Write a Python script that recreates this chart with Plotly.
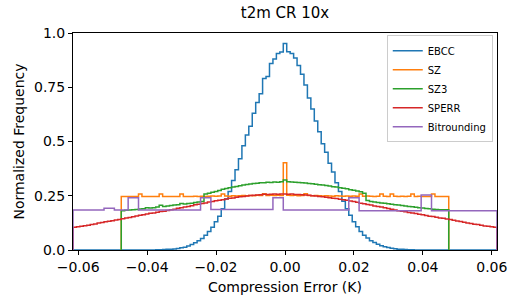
import numpy as np
import plotly.graph_objects as go

# ---------------- data ----------------
BIN_WIDTH = 0.001
GRID_START = -0.0615      # first bin edge of full-range histograms
SZ_START = -0.0475        # first bin edge of SZ / SZ3 histograms

series_names = ["EBCC", "SZ", "SZ3", "SPERR", "Bitrounding"]
series_colors = ["#1f77b4", "#ff7f0e", "#2ca02c", "#d62728", "#9467bd"]

ebcc = ([0.0] * 24 +
        [0.001, 0.001, 0.002, 0.003, 0.004, 0.005, 0.007, 0.010, 0.013, 0.018,
         0.025, 0.033, 0.043, 0.053, 0.068, 0.085, 0.105, 0.130, 0.155, 0.190,
         0.235, 0.270, 0.320, 0.370, 0.420, 0.480, 0.530, 0.570, 0.630, 0.680,
         0.720, 0.790, 0.800, 0.860, 0.880, 0.905, 0.912] +
        [0.952] +
        [0.914, 0.905, 0.885, 0.850, 0.810, 0.760, 0.700, 0.650, 0.595, 0.545,
         0.490, 0.450, 0.400, 0.360, 0.310, 0.270, 0.225, 0.190, 0.160, 0.130,
         0.107, 0.085, 0.068, 0.055, 0.043, 0.034, 0.027, 0.020, 0.015, 0.011,
         0.008, 0.006, 0.004, 0.003, 0.002, 0.001, 0.001] +
        [0.0] * 24)

sz = ([0.247, 0.246, 0.247, 0.246, 0.247, 0.258, 0.247, 0.246, 0.247, 0.246,
       0.247, 0.258, 0.247, 0.246, 0.247, 0.247, 0.246, 0.258, 0.247, 0.246,
       0.247, 0.248, 0.247, 0.248, 0.247, 0.248, 0.249, 0.248, 0.249, 0.258,
       0.249, 0.248, 0.250, 0.249, 0.250, 0.251, 0.250, 0.251, 0.250, 0.252,
       0.251, 0.259, 0.251, 0.252, 0.251, 0.252, 0.251] +
      [0.402] +
      [0.252, 0.251, 0.252, 0.250, 0.251, 0.259, 0.251, 0.250, 0.251, 0.250,
       0.249, 0.250, 0.249, 0.248, 0.250, 0.249, 0.248, 0.249, 0.248, 0.249,
       0.248, 0.258, 0.248, 0.249, 0.248, 0.247, 0.248, 0.258, 0.248, 0.247,
       0.258, 0.248, 0.247, 0.248, 0.247, 0.248, 0.258, 0.247, 0.248, 0.247,
       0.246, 0.247, 0.258, 0.247, 0.246, 0.247, 0.246])

sz3 = ([0.181, 0.183, 0.184, 0.186, 0.187, 0.189, 0.190, 0.195, 0.193, 0.195,
        0.198, 0.206, 0.201, 0.203, 0.205, 0.207, 0.209, 0.214, 0.212, 0.214,
        0.216, 0.219, 0.221, 0.223, 0.258, 0.262, 0.266, 0.270, 0.274, 0.280,
        0.283, 0.287, 0.290, 0.293, 0.296, 0.300, 0.302, 0.304, 0.306, 0.308,
        0.310, 0.310, 0.312, 0.311, 0.313, 0.312, 0.314] +
       [0.323] +
       [0.314, 0.313, 0.312, 0.311, 0.310, 0.309, 0.307, 0.305, 0.303, 0.301,
        0.299, 0.297, 0.295, 0.292, 0.290, 0.287, 0.285, 0.282, 0.278, 0.275,
        0.272, 0.268, 0.262, 0.228, 0.224, 0.221, 0.219, 0.217, 0.215, 0.213,
        0.211, 0.209, 0.207, 0.205, 0.203, 0.201, 0.199, 0.197, 0.195, 0.193,
        0.191, 0.190, 0.188, 0.187, 0.186, 0.186, 0.185])

sperr = ([0.105, 0.107, 0.109, 0.112, 0.114, 0.117, 0.120, 0.124, 0.127, 0.130,
          0.133, 0.135, 0.138, 0.141, 0.144, 0.147, 0.150, 0.153, 0.157, 0.160,
          0.163, 0.166, 0.169, 0.171, 0.174, 0.177, 0.179, 0.182, 0.185, 0.188,
          0.192, 0.195, 0.198, 0.201, 0.204, 0.208, 0.211, 0.214, 0.217, 0.221,
          0.224, 0.227, 0.229, 0.232, 0.235, 0.238, 0.240, 0.243, 0.245, 0.247,
          0.249, 0.251, 0.252, 0.254, 0.255, 0.257, 0.256, 0.257, 0.258, 0.257,
          0.258] +
         [0.258] +
         [0.257, 0.258, 0.256, 0.256, 0.255, 0.254, 0.252, 0.250, 0.249, 0.247,
          0.245, 0.243, 0.241, 0.239, 0.237, 0.234, 0.232, 0.229, 0.226, 0.223,
          0.220, 0.216, 0.213, 0.210, 0.207, 0.203, 0.200, 0.198, 0.195, 0.191,
          0.188, 0.184, 0.181, 0.178, 0.176, 0.173, 0.171, 0.168, 0.165, 0.162,
          0.159, 0.156, 0.154, 0.151, 0.148, 0.146, 0.143, 0.140, 0.137, 0.134,
          0.131, 0.128, 0.125, 0.122, 0.119, 0.117, 0.114, 0.111, 0.109, 0.107,
          0.105])

bitrounding = ([0.184] * 9 + [0.192] * 3 + [0.184] * 4 + [0.241] * 3 +
               [0.184] * 18 + [0.241] * 3 + [0.187] * 18 + [0.241] * 3 +
               [0.184] * 19 + [0.241] * 3 + [0.181] * 18 + [0.253] * 3 +
               [0.181] * 19)

series_values = [ebcc, sz, sz3, sperr, bitrounding]
series_starts = [GRID_START, SZ_START, SZ_START, GRID_START, GRID_START]

x_tick_vals = [-0.06, -0.04, -0.02, 0.0, 0.02, 0.04, 0.06]
x_tick_text = ["\u22120.06", "\u22120.04", "\u22120.02", "0.00", "0.02", "0.04", "0.06"]
y_tick_vals = [0.0, 0.25, 0.5, 0.75, 1.0]
y_tick_text = ["0.0", "0.25", "0.5", "0.75", "1.0"]
X_RANGE = [-0.0615, 0.0615]
Y_RANGE = [0.0, 1.0]


def step_xy(start, values):
    """Histogram outline (matplotlib histtype='step') from bin start and counts."""
    edges = start + BIN_WIDTH * np.arange(len(values) + 1)
    x = [edges[0]] + list(edges) + [edges[-1]]
    y = [0.0] + list(values) + [values[-1], 0.0]
    return x, y


FONT = "DejaVu Sans"
fig = go.Figure()
for name, color, vals, start in zip(series_names, series_colors, series_values, series_starts):
    x, y = step_xy(start, vals)
    fig.add_trace(go.Scatter(x=x, y=y, mode="lines", name=name,
                             line=dict(color=color, width=1.5, shape="hv")))

axis_common = dict(showline=True, linecolor="black", linewidth=1, mirror=True,
                   ticks="outside", ticklen=4, tickwidth=1, tickcolor="black",
                   showgrid=False, zeroline=False, automargin=False,
                   tickfont=dict(family=FONT, size=14, color="black"))

fig.update_layout(
    width=519, height=306,
    margin=dict(l=73, r=22, t=33, b=56, autoexpand=False),
    paper_bgcolor="white", plot_bgcolor="white",
    font=dict(family=FONT, color="black"),
    title=dict(text="t2m CR 10x", x=0.5, xref="paper", y=1 - 13 / 306,
               yref="container", xanchor="center", yanchor="middle",
               automargin=False,
               font=dict(family=FONT, size=15, color="black")),
    xaxis=dict(range=X_RANGE, tickvals=x_tick_vals, ticktext=x_tick_text,
               title=dict(text="Compression Error (K)", standoff=8,
                          font=dict(family=FONT, size=14, color="black")),
               **axis_common),
    yaxis=dict(range=Y_RANGE, tickvals=y_tick_vals, ticktext=y_tick_text,
               title=dict(text="Normalized Frequency", standoff=6,
                          font=dict(family=FONT, size=14, color="black")),
               **axis_common),
    legend=dict(x=0.99, y=0.99, xanchor="right", yanchor="top",
                bgcolor="white", bordercolor="#cccccc", borderwidth=1,
                font=dict(family=FONT, size=10, color="black"),
                itemwidth=30),
    showlegend=True,
)

# remove the browser's default 8px body margin so the figure sits at (0, 0)
fig.write_html("out.html",
               config={"displayModeBar": False},
               post_script="document.body.style.margin='0';document.body.style.overflow='hidden';")
